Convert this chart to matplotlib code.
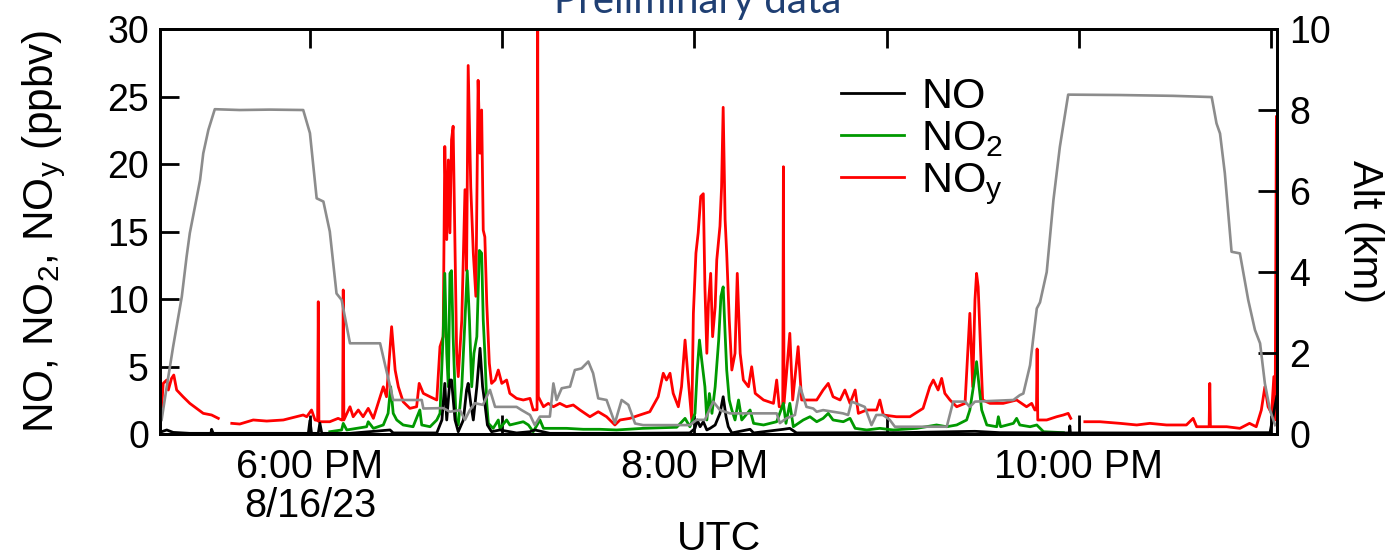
import numpy as np
import matplotlib.pyplot as plt

plt.rcParams['font.family'] = ['Liberation Sans', 'DejaVu Sans']
plt.rcParams['mathtext.fontset'] = 'custom'
plt.rcParams['mathtext.rm'] = 'Liberation Sans'
plt.rcParams['mathtext.default'] = 'regular'

# time axis: minutes after 17:00 UTC, 8/16/23
alt_t = [13.7, 15.3, 17.3, 20.0, 21.5, 22.5, 24.1, 25.7, 26.7, 28.3,
         30.3, 38.1, 47.5, 57.9, 60.0, 62.1, 64.2, 66.2, 68.3, 69.9,
         72.5, 81.9, 86.0, 94.9, 95.4, 101.6, 103.7, 106.8, 108.4, 109.9,
         111.5, 114.0, 116.2, 117.8, 124.5, 126.1, 128.7, 130.2, 131.8, 134.9,
         136.0, 137.0, 138.6, 141.2, 142.7, 144.8, 146.9, 148.4, 150.0, 152.6,
         155.2, 157.3, 159.4, 161.5, 164.0, 178.6, 180.7, 183.3, 185.9, 188.0,
         191.1, 205.7, 206.7, 208.8, 211.4, 213.0, 215.0, 217.1, 218.2, 220.2,
         226.4, 228.0, 229.1, 233.2, 235.3, 236.8, 238.9, 241.0, 242.6, 258.8,
         260.8, 264.5, 266.0, 267.6, 279.6, 281.6, 282.7, 284.8, 286.9, 287.9,
         290.0, 292.1, 294.1, 296.7, 312.9, 329.5, 341.5, 343.0, 344.1, 345.6,
         347.7, 350.3, 352.9, 355.0, 356.6, 358.1, 359.7, 361.3]
alt_km = [0.35, 1.17, 2.16, 3.39, 4.38, 4.96, 5.61, 6.27, 6.93, 7.51,
          8.02, 8.00, 8.01, 8.00, 7.43, 5.82, 5.74, 5.00, 3.47, 3.31,
          2.24, 2.24, 0.84, 0.84, 0.63, 0.64, 0.55, 0.59, 0.35, 0.59,
          0.76, 0.72, 1.09, 0.67, 0.67, 0.59, 0.47, 0.22, 0.43, 0.43,
          1.25, 0.84, 1.13, 1.17, 1.58, 1.62, 1.79, 1.50, 0.88, 0.84,
          0.27, 0.84, 0.72, 0.26, 0.22, 0.22, 0.35, 0.35, 0.80, 0.59,
          0.51, 0.51, 0.27, 0.39, 0.47, 1.17, 0.67, 0.63, 0.55, 0.59,
          0.51, 0.47, 0.80, 0.67, 0.22, 0.47, 0.47, 0.35, 0.18, 0.18,
          0.80, 0.80, 0.67, 0.80, 0.84, 0.96, 1.00, 1.70, 3.10, 3.25,
          4.00, 5.78, 7.09, 8.38, 8.37, 8.35, 8.32, 7.67, 7.42, 6.44,
          4.50, 4.46, 3.31, 2.57, 2.24, 1.25, 0.59, 0.22]

noy_t = [13.7, 14.2, 15.3, 15.8, 16.8, 17.5, 18.4, 20.4, 22.5, 24.6,
         26.7, 29.3, 31.4, 33.5, 35.6, 38.1, 42.3, 46.5, 51.7, 55.8,
         57.9, 59.0, 60.5, 61.6, 62.4, 62.6, 62.8, 66.2, 68.8, 69.9,
         70.2, 70.4, 70.6, 72.5, 73.5, 75.1, 76.6, 78.2, 79.8, 81.9,
         82.9, 83.9, 85.5, 86.6, 87.6, 89.1, 91.2, 93.3, 94.1, 95.4,
         97.5, 99.6, 100.6, 101.6, 102.1, 102.7, 103.2, 103.7, 104.2, 104.7,
         105.3, 105.8, 106.3, 107.4, 107.9, 108.4, 108.9, 109.4, 110.2, 111.0,
         111.8, 112.5, 113.1, 113.6, 114.1, 114.6, 115.2, 116.0, 116.7, 117.8,
         118.8, 119.9, 121.4, 122.4, 124.5, 126.6, 128.7, 129.7, 130.9, 131.1,
         131.3, 132.9, 134.4, 136.0, 138.0, 140.1, 142.2, 144.3, 147.4, 150.0,
         152.6, 155.2, 156.8, 159.9, 163.0, 166.1, 168.7, 170.3, 171.3, 172.4,
         173.4, 175.0, 176.0, 177.1, 178.1, 179.2, 179.7, 180.5, 181.2, 182.0,
         182.8, 183.3, 183.9, 184.4, 185.1, 185.7, 186.5, 187.0, 188.0, 188.5,
         189.0, 189.6, 190.1, 190.9, 191.7, 192.7, 193.4, 194.3, 195.3, 196.9,
         197.9, 199.0, 201.6, 204.7, 205.7, 206.5, 207.6, 207.8, 208.0, 209.8,
         210.7, 212.4, 213.5, 215.0, 218.2, 220.2, 221.8, 223.3, 225.5, 227.0,
         228.6, 230.2, 231.2, 233.8, 236.9, 237.9, 239.0, 243.1, 247.3, 251.4,
         253.5, 254.6, 256.1, 257.2, 258.2, 259.8, 261.9, 264.5, 266.0, 266.9,
         267.6, 268.1, 268.6, 269.4, 270.0, 272.3, 276.4, 280.6, 283.7, 285.3,
         286.3, 286.8, 287.0, 287.2, 290.0, 293.1, 295.2, 296.7, 297.5, 299.8,
         301.9, 306.6, 312.9, 318.1, 322.2, 327.4, 333.6, 335.7, 336.8, 339.9,
         340.7, 340.9, 341.1, 346.2, 350.3, 353.3, 355.4, 357.0, 358.1, 359.1,
         360.2, 360.9, 361.3, 361.7]
noy = [2.02, 3.75, 4.00, 3.26, 4.12, 4.37, 3.26, 2.76, 2.27, 1.90,
       1.53, 1.41, 1.16, np.nan, 0.79, 0.74, 1.04, 0.96, 1.04, 1.28,
       1.41, 1.28, 1.78, 1.04, 1.00, 9.80, 0.91, 0.91, 1.16, 1.04,
       1.04, 10.67, 1.04, 2.02, 1.28, 1.78, 1.28, 1.90, 1.16, 2.76,
       3.50, 2.76, 7.95, 4.74, 3.50, 2.39, 1.90, 2.02, 3.75, 3.01,
       2.76, 2.52, 6.47, 7.21, 21.3, 14.4, 20.3, 14.9, 21.8, 22.8,
       13.4, 5.98, 4.25, 8.44, 13.4, 18.1, 12.1, 27.3, 18.3, 13.4,
       10.2, 26.2, 20.8, 24.0, 15.1, 14.6, 9.68, 5.24, 3.75, 4.00,
       4.74, 3.75, 4.00, 3.01, 2.64, 2.52, 2.64, 1.78, 1.80, 31.0,
       2.76, 2.02, 2.27, 2.02, 2.27, 2.02, 2.15, 1.78, 1.28, 1.65,
       1.28, 0.67, 1.04, 1.16, 1.41, 1.65, 2.76, 4.50, 4.00, 4.50,
       3.01, 2.02, 3.50, 6.96, 4.00, 1.04, 8.94, 13.4, 14.9, 17.6,
       17.8, 10.9, 5.98, 9.68, 11.9, 7.21, 9.43, 12.9, 15.4, 18.3,
       24.2, 15.9, 13.4, 8.44, 4.74, 5.98, 11.9, 5.98, 4.00, 3.50,
       4.98, 3.01, 2.52, 2.27, 4.00, 2.02, 2.00, 19.8, 2.27, 7.46,
       2.52, 6.47, 2.52, 2.52, 2.52, 3.26, 3.75, 2.76, 2.52, 3.26,
       2.27, 3.26, 1.53, 1.78, 1.78, 2.52, 1.41, 1.28, 1.28, 1.90,
       3.50, 4.00, 3.26, 4.12, 3.01, 2.52, 2.02, 2.27, 8.94, 3.50,
       9.93, 11.9, 10.9, 5.98, 2.52, 2.27, 2.27, 2.52, 2.02, 2.27,
       1.78, 1.80, 6.30, 1.04, 1.04, 1.28, 1.41, 1.53, 1.16, np.nan,
       0.91, 0.91, 0.79, 0.67, 0.79, 0.67, 0.67, 1.16, 0.54, 0.54,
       0.54, 3.75, 0.54, 0.54, 0.42, 0.79, 0.54, 1.78, 3.50, 2.02,
       1.53, 4.25, 1.04, 23.5]

no2_t = [66.2, 69.9, 70.4, 71.5, 74.6, 77.7, 78.2, 79.8, 82.9, 84.4,
         85.2, 86.0, 87.1, 89.1, 92.2, 94.3, 94.9, 97.5, 99.6, 100.6,
         101.6, 102.1, 102.7, 103.2, 103.7, 104.2, 104.7, 105.6, 106.3, 107.4,
         108.4, 109.1, 109.8, 110.5, 111.2, 112.1, 112.9, 113.6, 114.1, 114.6,
         115.2, 115.7, 117.2, 118.8, 119.3, 121.4, 122.4, 124.5, 126.6, 128.2,
         129.7, 131.8, 132.9, 140.1, 145.3, 150.5, 155.7, 164.0, 174.5, 177.1,
         178.6, 180.2, 180.9, 181.6, 182.3, 183.3, 183.9, 184.7, 185.5, 186.5,
         187.6, 188.3, 189.0, 189.6, 190.1, 190.9, 191.7, 192.7, 193.8, 194.8,
         197.4, 198.5, 201.6, 205.7, 207.8, 208.6, 209.8, 210.9, 214.0, 216.1,
         218.2, 220.2, 221.8, 223.3, 226.5, 228.6, 230.2, 233.8, 237.9, 242.1,
         249.4, 255.6, 258.8, 261.9, 265.0, 266.0, 267.1, 268.1, 268.9, 269.7,
         271.3, 274.4, 274.9, 275.6, 279.6, 280.6, 281.6, 284.8, 286.9, 289.0,
         295.2]
no2 = [0.17, 0.30, 0.79, 0.30, 0.42, 0.54, 0.91, 0.42, 0.67, 1.53,
       3.50, 1.53, 1.04, 0.67, 0.54, 1.78, 0.67, 0.54, 1.04, 1.53,
       7.46, 11.9, 5.98, 3.50, 11.9, 12.1, 7.21, 1.04, 0.67, 3.50,
       8.44, 12.1, 8.44, 3.50, 5.98, 7.21, 13.6, 13.4, 8.44, 5.98,
       2.27, 0.79, 0.42, 1.04, 0.42, 1.04, 0.67, 0.79, 0.91, 0.67,
       0.17, 1.04, 0.42, 0.42, 0.35, 0.35, 0.30, 0.42, 0.50, 1.16,
       0.54, 1.53, 4.74, 6.96, 5.48, 3.50, 1.04, 3.00, 1.53, 3.50,
       6.96, 10.2, 10.9, 7.46, 4.74, 2.52, 1.78, 1.04, 2.52, 1.04,
       1.78, 0.79, 0.67, 0.91, 2.27, 0.79, 2.27, 0.54, 1.04, 1.28,
       0.91, 1.16, 1.53, 1.04, 0.91, 1.16, 0.42, 0.30, 0.42, 0.30,
       0.42, 0.67, 0.54, 0.67, 1.04, 1.78, 3.50, 5.36, 3.50, 1.78,
       0.67, 0.54, 1.28, 0.54, 0.79, 1.16, 0.67, 0.54, 0.67, 0.17,
       0.10]

no_t = [13.7, 15.3, 17.3, 22.5, 29.1, 29.3, 29.8, 41.3, 55.8, 59.5,
        60.0, 60.5, 62.6, 63.1, 63.7, 72.5, 85.0, 86.0, 99.6, 101.2,
        102.1, 102.7, 103.7, 104.2, 105.3, 106.3, 107.9, 108.9, 109.4, 110.2,
        111.0, 112.1, 113.1, 113.9, 114.6, 115.4, 116.7, 119.3, 124.5, 128.7,
        130.2, 134.9, 155.7, 178.6, 180.2, 180.9, 181.8, 182.8, 183.9, 184.9,
        186.5, 188.0, 189.0, 189.9, 190.6, 191.7, 197.4, 198.5, 207.8, 209.8,
        211.9, 244.2, 267.6, 275.4, 297.0, 297.2, 297.4, 322.2, 359.7, 361.8]
no = [0.17, 0.30, 0.12, 0.05, 0.05, 0.35, 0.05, 0.05, 0.05, 0.05,
      1.00, 0.05, 0.05, 0.80, 0.05, 0.05, 0.30, 0.08, 0.08, 1.04,
      3.75, 1.04, 4.00, 4.00, 1.04, 0.17, 1.04, 3.26, 3.75, 2.27,
      1.04, 3.50, 6.35, 3.50, 2.27, 0.67, 0.17, 0.30, 0.08, 0.17,
      0.30, 0.05, 0.05, 0.08, 0.42, 1.04, 0.54, 0.91, 0.30, 0.42,
      0.67, 1.53, 2.76, 1.28, 0.54, 0.08, 0.35, 0.08, 0.35, 0.42,
      0.08, 0.10, 0.20, 0.10, 0.08, 0.60, 0.08, 0.08, 0.10, 2.76]

hour_ticks = [18, 19, 20, 21, 22, 23]
hour_labels = ['6:00 PM\n8/16/23', '', '8:00 PM', '', '10:00 PM', '']


def hrs(minutes):
    return 17 + np.asarray(minutes) / 60.0


fig = plt.figure(figsize=(13.89, 5.57), dpi=100)
ax = fig.add_axes([0.1152, 0.2208, 0.8042, 0.7271])

ax.plot(hrs(noy_t), noy, color='#ff0000', lw=2.0, label='NO$_y$')
ax.plot(hrs(no2_t), no2, color='#009900', lw=2.0, label='NO$_2$')
ax.plot(hrs(no_t), no, color='black', lw=2.0, label='NO')

ax.set_xlim(hrs(13.2), hrs(361.9))
ax.set_ylim(0, 30)
ax.set_yticks([0, 5, 10, 15, 20, 25, 30])
ax.set_xticks(hour_ticks, hour_labels)
for lab in ax.get_xticklabels():
    lab.set_linespacing(1.05)

ax.tick_params(axis='both', direction='in', length=14, width=2)
ax.tick_params(axis='x', top=True, labelsize=28.5, pad=10)
ax.tick_params(axis='y', right=False, labelsize=27, pad=8)
for sp in ax.spines.values():
    sp.set_linewidth(2)

ax.set_ylabel('NO, NO$_2$, NO$_y$ (ppbv)', fontsize=30.5)
ax.yaxis.set_label_coords(-0.082, 0.5)
ax.set_xlabel('UTC', fontsize=29.5)
ax.xaxis.set_label_coords(0.5, -0.213)

ax2 = ax.twinx()
ax2.plot(hrs(alt_t), alt_km, color='#8c8c8c', lw=1.9)
ax2.set_ylim(0, 10)
ax2.set_yticks([0, 2, 4, 6, 8, 10])
ax2.tick_params(axis='y', direction='in', length=14, width=2, labelsize=27, pad=9)
for sp in ax2.spines.values():
    sp.set_linewidth(2)
ax2.set_ylabel('Alt (km)', fontsize=30, rotation=270, va='bottom')
ax2.yaxis.set_label_coords(1.060, 0.5)

h, l = ax.get_legend_handles_labels()
ax.legend(h[::-1], l[::-1], loc='upper left', bbox_to_anchor=(0.610, 0.882),
          frameon=False, fontsize=31, handlelength=1.45, handletextpad=0.4,
          labelspacing=0.05, borderpad=0, borderaxespad=0)

fig.text(0.5025, 1 - 13 / 557, 'Preliminary data', ha='center', va='baseline',
         fontsize=29, color='#1f3f73', family=['Lato', 'DejaVu Sans'])

fig.savefig('out.png', dpi=100)
